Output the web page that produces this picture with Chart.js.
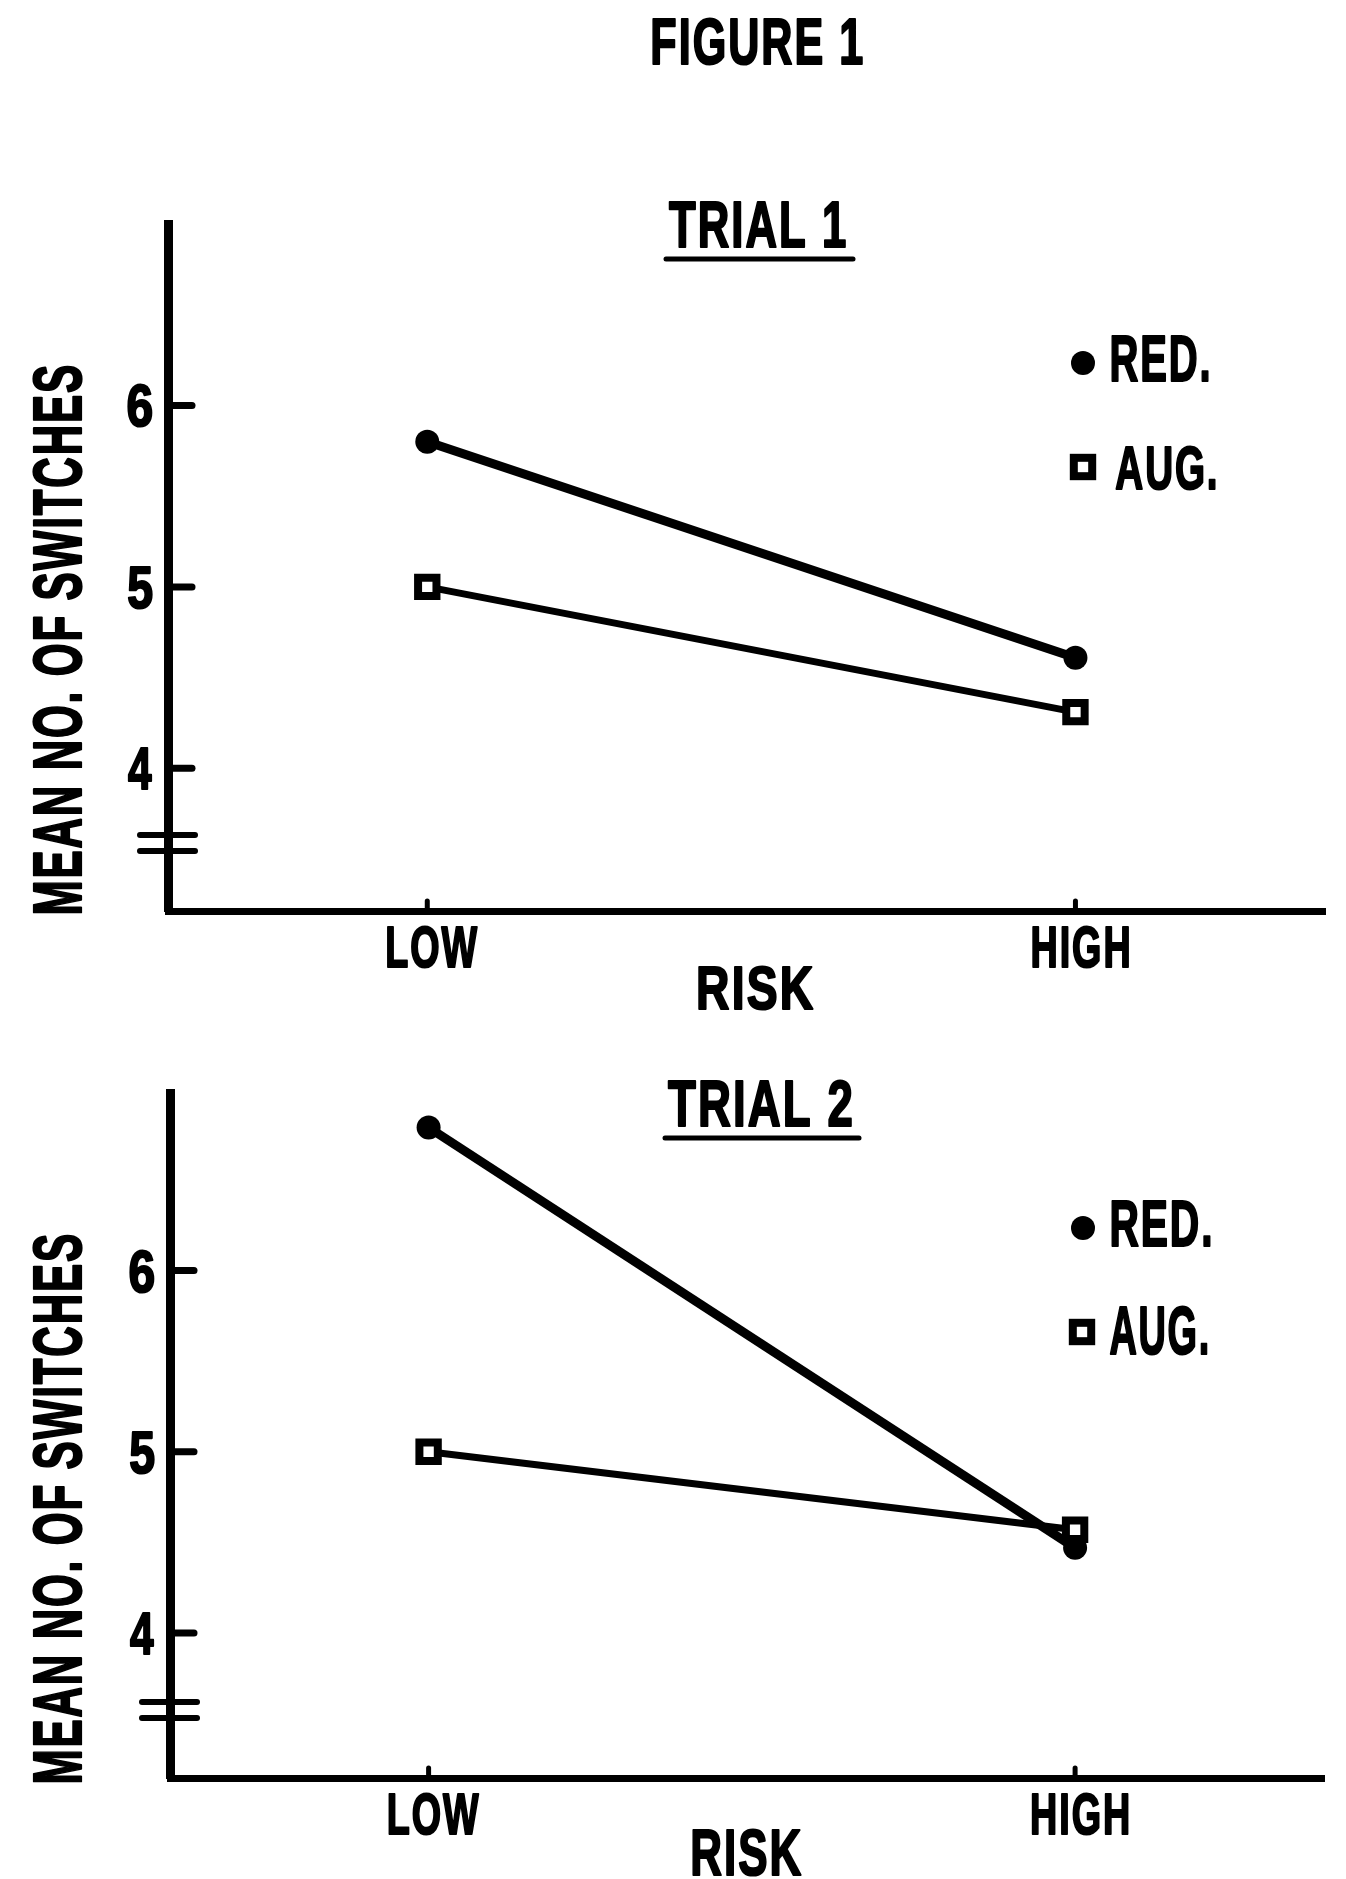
<!DOCTYPE html>
<html>
<head>
<meta charset="utf-8">
<title>Figure 1</title>
<script src="https://cdn.jsdelivr.net/npm/chart.js@4.4.1/dist/chart.umd.min.js"></script>
<style>
  html, body { margin: 0; padding: 0; background: #fff; }
  canvas { display: block; }
</style>
</head>
<body>
<canvas id="trial1" width="1346" height="1025"></canvas>
<canvas id="trial2" width="1346" height="854"></canvas>
<script>
// values
const categories = ['LOW', 'HIGH'];
const seriesNames = ['RED.', 'AUG.'];
const trial1Red = [5.80, 4.61];
const trial1Aug = [5.00, 4.31];
const trial2Red = [6.79, 4.47];
const trial2Aug = [5.00, 4.57];
const yTicks = [4, 5, 6];

const FONT = '"Liberation Sans", Arial, sans-serif';
const INK = '#000';

// set a bold font whose capital height is `cap` px
function capFont(ctx, cap){
  ctx.font = 'bold 100px ' + FONT;
  const a = ctx.measureText('H').actualBoundingBoxAscent || 72;
  ctx.font = 'bold ' + (cap * 100 / a).toFixed(2) + 'px ' + FONT;
}

// lettering is very condensed, so squeeze text until its ink is w px wide
function inkText(ctx, text, x0, y, cap, w){
  ctx.save();
  ctx.letterSpacing = '3px';
  capFont(ctx, cap - 2);
  ctx.textAlign = 'left';
  ctx.textBaseline = 'alphabetic';
  ctx.fillStyle = INK;
  ctx.strokeStyle = INK;
  ctx.lineJoin = 'round';
  ctx.lineWidth = 2.2;
  const m = ctx.measureText(text);
  const inkW = m.actualBoundingBoxLeft + m.actualBoundingBoxRight;
  ctx.translate(x0, y - 1);
  ctx.scale(w / inkW, 1);
  ctx.fillText(text, m.actualBoundingBoxLeft, 0);
  ctx.strokeText(text, m.actualBoundingBoxLeft, 0);
  ctx.restore();
}

// same, centred on cx with a fixed squeeze factor
function inkTextSx(ctx, text, cx, y, cap, sx){
  ctx.save();
  ctx.letterSpacing = '3px';
  capFont(ctx, cap - 2);
  const m = ctx.measureText(text);
  ctx.restore();
  const w = (m.actualBoundingBoxLeft + m.actualBoundingBoxRight) * sx;
  inkText(ctx, text, cx - w / 2, y, cap, w);
}

function stroke(ctx, x1, y1, x2, y2, lw){
  ctx.save();
  ctx.strokeStyle = INK;
  ctx.lineWidth = lw;
  ctx.lineCap = 'round';
  ctx.beginPath();
  ctx.moveTo(x1, y1);
  ctx.lineTo(x2, y2);
  ctx.stroke();
  ctx.restore();
}

function marker(ctx, ds, x, y){
  ctx.save();
  if (ds.pointStyle === 'rect') {
    const s = ds.pointRadius * Math.SQRT2;
    ctx.fillStyle = '#fff';
    ctx.fillRect(x - s / 2, y - s / 2, s, s);
    ctx.strokeStyle = INK;
    ctx.lineWidth = ds.pointBorderWidth;
    ctx.strokeRect(x - s / 2, y - s / 2, s, s);
  } else {
    ctx.fillStyle = INK;
    ctx.beginPath();
    ctx.arc(x, y, ds.pointRadius, 0, Math.PI * 2);
    ctx.fill();
  }
  ctx.restore();
}

// axis decorations, lettering and legend drawn by hand
const decor = {
  id: 'decor',
  afterDraw(chart, args, o){
    const ctx = chart.ctx;
    const xs = chart.scales.x, ys = chart.scales.y;
    const area = chart.chartArea;
    const left = area.left, bottom = area.bottom;

    // y ticks point inward, labels on the left
    yTicks.forEach(v => {
      const py = ys.getPixelForValue(v);
      stroke(ctx, left, py, left + 24, py, 7);
      inkText(ctx, String(v), left - 40, py + 22, 44, 24);
    });
    // axis break
    stroke(ctx, left - 28, bottom - 76, left + 27, bottom - 76, 6);
    stroke(ctx, left - 28, bottom - 60, left + 27, bottom - 60, 6);

    // category stubs and labels
    categories.forEach((c, i) => {
      const px = xs.getPixelForValue(i);
      stroke(ctx, px, bottom, px, bottom - 10, 5);
      inkTextSx(ctx, c, px + 5, bottom + 57, 42, 0.66);
    });

    // axis titles
    inkText(ctx, 'RISK', o.risk[0], o.risk[2], o.risk[2] - o.risk[1], o.risk[3]);
    ctx.save();
    ctx.translate(82, o.yTitle[1]);
    ctx.rotate(-Math.PI / 2);
    inkText(ctx, 'MEAN NO. OF SWITCHES', 0, 0, 50, o.yTitle[1] - o.yTitle[0]);
    ctx.restore();

    // panel title, underlined
    const t = o.title;
    inkText(ctx, t.text, t.x0, t.base, t.cap, t.w);
    stroke(ctx, t.x0 - 3, t.base + 11, t.x0 + t.w + 8, t.base + 11, 5);

    // legend
    chart.data.datasets.forEach((ds, i) => {
      const L = o.legend[i];
      marker(ctx, ds, L.mx, L.my);
      inkText(ctx, ds.label, L.x0, L.base, L.cap, L.w);
    });

    if (o.figure) inkText(ctx, 'FIGURE 1', 653, 65, 47, 209);
  }
};

function makeChart(id, red, aug, yMin, yMax, pad, lw, o){
  const pts = vals => categories.map((c, i) => ({ x: i, y: vals[i] }));
  return new Chart(document.getElementById(id), {
    type: 'line',
    data: {
      datasets: [
        { label: seriesNames[0], data: pts(red), borderColor: INK, borderWidth: lw[0],
          pointStyle: 'circle', pointRadius: 12, pointBorderWidth: 0,
          pointBackgroundColor: INK, pointBorderColor: INK, tension: 0 },
        { label: seriesNames[1], data: pts(aug), borderColor: INK, borderWidth: lw[1],
          pointStyle: 'rect', pointRadius: 13, pointBorderWidth: 8,
          pointBackgroundColor: '#fff', pointBorderColor: INK, tension: 0 }
      ]
    },
    options: {
      responsive: false,
      animation: false,
      events: [],
      layout: { padding: pad },
      plugins: { legend: { display: false }, tooltip: { enabled: false }, decor: o },
      scales: {
        x: { type: 'linear', min: -0.4, max: 1.385,
             grid: { display: false, drawTicks: false }, ticks: { display: false },
             border: { display: true, width: 7, color: INK } },
        y: { type: 'linear', min: yMin, max: yMax,
             grid: { display: false, drawTicks: false }, ticks: { display: false },
             border: { display: true, width: 9, color: INK } }
      }
    },
    plugins: [decor]
  });
}

makeChart('trial1', trial1Red, trial1Aug, 3.214, 7.0,
  { left: 168, top: 224, right: 18, bottom: 114 }, [9, 7], {
    figure: true,
    title: { text: 'TRIAL 1', x0: 669, w: 176, base: 248, cap: 47 },
    legend: [
      { mx: 1083, my: 363, x0: 1112, w: 96, base: 382, cap: 48 },
      { mx: 1083, my: 467, x0: 1116, w: 99, base: 490, cap: 45 }
    ],
    risk: [699, 965, 1010, 114],
    yTitle: [366, 913]
  });

makeChart('trial2', trial2Red, trial2Aug, 3.2, 6.98,
  { left: 170, top: 68, right: 22, bottom: 101 }, [9, 7], {
    title: { text: 'TRIAL 2', x0: 668, w: 183, base: 102, cap: 48 },
    legend: [
      { mx: 1083, my: 203, x0: 1112, w: 98, base: 222, cap: 47 },
      { mx: 1082, my: 307, x0: 1110, w: 97, base: 330, cap: 50 }
    ],
    risk: [693, 803, 851, 108],
    yTitle: [210, 757]
  });
</script>
</body>
</html>
